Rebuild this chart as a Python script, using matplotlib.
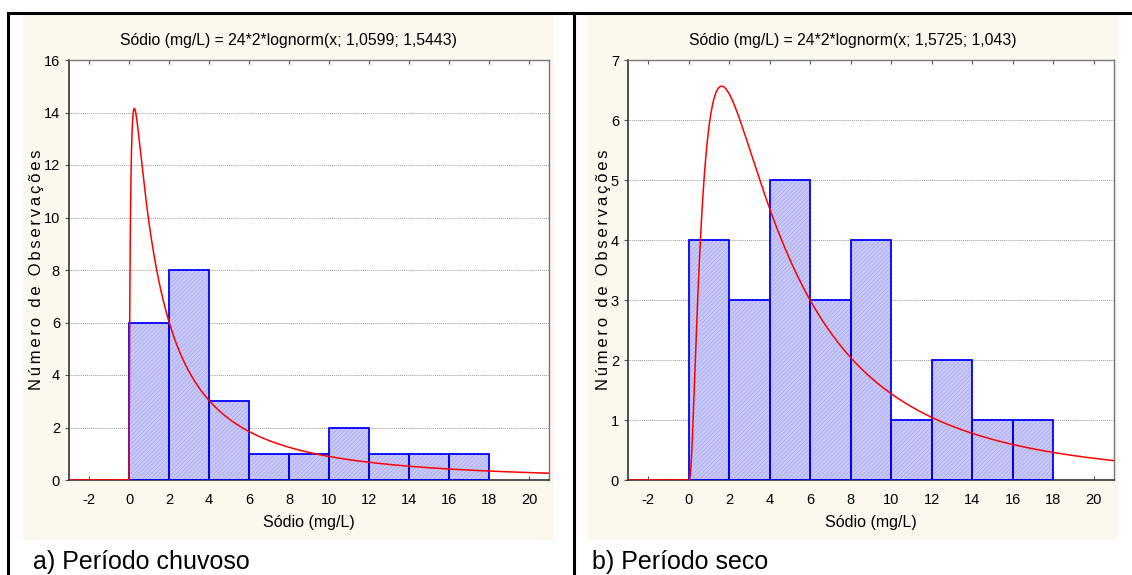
import numpy as np
import matplotlib.pyplot as plt
from matplotlib.patches import Rectangle
from matplotlib.lines import Line2D

plt.rcParams['font.family'] = ['Liberation Sans', 'DejaVu Sans']
plt.rcParams['hatch.linewidth'] = 0.5
plt.rcParams['axes.unicode_minus'] = False

# Data
bin_left = [0, 2, 4, 6, 8, 10, 12, 14, 16]
bin_width = 2
counts_chuvoso = [6, 8, 3, 1, 1, 2, 1, 1, 1]
counts_seco = [4, 3, 5, 3, 4, 1, 2, 1, 1]

# fitted lognormal parameters (from titles): N * bin width * lognorm(x; mu, sigma)
n_obs = 24
fit_chuvoso = (1.0599, 1.5443)
fit_seco = (1.5725, 1.043)

titles = ['Sódio (mg/L) = 24*2*lognorm(x; 1,0599; 1,5443)',
          'Sódio (mg/L) = 24*2*lognorm(x; 1,5725; 1,043)']
captions = ['a) Período chuvoso', 'b) Período seco']
ylims = [16, 7]
xticks = list(range(-2, 21, 2))

cream = '#FCF8EE'
W, H = 1132, 575

fig = plt.figure(figsize=(W / 100, H / 100), dpi=100)

# cream panel backgrounds
panels_px = [(23, 554), (588, 1118)]
for x0, x1 in panels_px:
    fig.patches.append(Rectangle((x0 / W, 1 - 540 / H), (x1 - x0) / W, (540 - 14) / H,
                                 transform=fig.transFigure, facecolor=cream,
                                 edgecolor='none', zorder=-10))

# black frame lines
lw = 2.2
fig.add_artist(Line2D([8 / W, 1], [1 - 13 / H, 1 - 13 / H], color='black', lw=lw))
fig.add_artist(Line2D([8 / W, 8 / W], [0, 1 - 13 / H], color='black', lw=lw))
fig.add_artist(Line2D([574 / W, 574 / W], [0, 1 - 13 / H], color='black', lw=lw))


def lognorm_curve(x, mu, sigma):
    y = np.zeros_like(x)
    pos = x > 0
    xp = x[pos]
    y[pos] = np.exp(-(np.log(xp) - mu) ** 2 / (2 * sigma ** 2)) / (xp * sigma * np.sqrt(2 * np.pi))
    return n_obs * bin_width * y


# spaced-out letters like the original
ylabel = '\u200a\u200a'.join('Número de Observações')

axes_px = [(69, 549), (628, 1114)]
data = [counts_chuvoso, counts_seco]
fits = [fit_chuvoso, fit_seco]
xs = np.linspace(-3, 21, 6000)

for i in range(2):
    l, r = axes_px[i]
    ax = fig.add_axes([l / W, 1 - 480 / H, (r - l) / W, (480 - 60) / H])
    ax.set_facecolor('white')
    ax.set_xlim(-3, 21)
    ax.set_ylim(0, ylims[i])

    # hatched fill then blue outline
    ax.bar(bin_left, data[i], width=bin_width, align='edge', color='#CACAF8',
           edgecolor='#A4A4EC', hatch='////////', linewidth=0, zorder=2)
    ax.bar(bin_left, data[i], width=bin_width, align='edge', fill=False,
           edgecolor='#0000FF', linewidth=1.3, zorder=3)

    ax.plot(xs, lognorm_curve(xs, *fits[i]), color='#FF0000', lw=1.1, zorder=4)

    ax.set_xticks(xticks)
    ax.set_yticks(range(0, ylims[i] + 1, 2 if ylims[i] > 8 else 1))
    ax.grid(axis='y', color='#9A9A9A', linestyle=(0, (1, 1)), linewidth=0.7, zorder=1)
    ax.set_axisbelow(True)
    ax.tick_params(axis='x', direction='in', top=True, length=3, labelsize=10.5,
                   pad=9, color='#555555')
    ax.tick_params(axis='y', direction='out', length=3, labelsize=10.5, color='#555555')
    for s in ['top', 'right']:
        ax.spines[s].set_color('#777777')
        ax.spines[s].set_linewidth(1.0)
    for s in ['left', 'bottom']:
        ax.spines[s].set_color('#333333')
        ax.spines[s].set_linewidth(1.2)

    ax.set_xlabel('Sódio (mg/L)', fontsize=11.5, labelpad=6)
    ax.set_ylabel(ylabel, fontsize=12, labelpad=0)

    # title centred on the cream panel
    x0, x1 = panels_px[i]
    fig.text((x0 + x1) / 2 / W, 1 - 40 / H, titles[i], fontsize=11.3,
             ha='center', va='center')

    fig.text((33 if i == 0 else 592) / W, 1 - 562 / H, captions[i], fontsize=18,
             va='center', ha='left')

fig.savefig('out.png', dpi=100, facecolor='white')
